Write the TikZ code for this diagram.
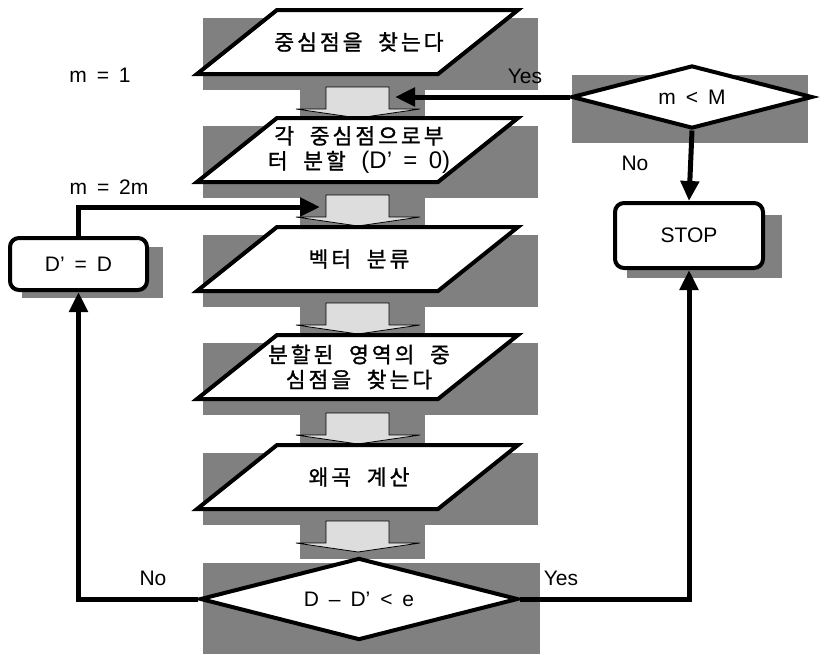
\documentclass[tikz,border=0pt]{standalone}
\usepackage{fontspec}
\setmainfont[WordSpace=1.7]{Liberation Sans}
\newfontfamily\kr[LetterSpace=14,FakeBold=1.2,WordSpace=2.0]{Noto Sans CJK KR}
\usetikzlibrary{arrows.meta,shapes.geometric}
\definecolor{shadegray}{RGB}{128,128,128}
\definecolor{blockgray}{RGB}{221,221,221}

% one input/output step: grey shadow, parallelogram, text
% #1 node name, #2 top edge y, #3 text
\newcommand\iostep[3]{%
  \fill[shadegray] (203,#2+8) rectangle (538,#2+80);
  \draw[iofr] (277,#2) -- (518,#2) -- (438,#2+64) -- (197,#2+64) -- cycle;
  \node[iotext] (#1) at (359,#2+32) {#3};
}
% one block arrow between steps, #1 name, #2 top of the shaft
\newcommand\flowdown[2]{%
  \fill[shadegray] (300,#2+2) rectangle (425,#2+38);
  \draw[blockarr] (326,#2) -- (389,#2) -- (389,#2+22) -- (420,#2+22)
    -- (358,#2+31) -- (296,#2+22) -- (326,#2+22) -- cycle;
  \coordinate (#1) at (358,#2+31);
}
% Latin run inside a Korean label
\newcommand\latinrun[1]{{\normalfont\fontsize{24}{25}\selectfont #1}}

\begin{document}
\begin{tikzpicture}[x=1pt,y=-1pt,
  iofr/.style={draw=black,fill=white,line width=4pt,line join=miter},
  iotext/.style={font=\kr\fontsize{21.5}{25}\selectfont,align=center,inner sep=0pt},
  blockarr/.style={draw=black,fill=blockgray,line width=0.8pt},
  decision/.style={diamond,draw=black,fill=white,line width=4pt,inner sep=0pt,
    font=\fontsize{21}{24}\selectfont},
  roundbox/.style={rectangle,rounded corners=9pt,draw=black,fill=white,
    line width=4pt,inner sep=0pt,font=\fontsize{21}{24}\selectfont},
  conn/.style={line width=5pt,line join=miter},
  tip/.style={-{Triangle[length=20pt,width=18pt]}},
  lbl/.style={font=\fontsize{21}{24}\selectfont,inner sep=0pt}]
\useasboundingbox (0,0) rectangle (827,654);

% shadows of the rounded boxes and decisions
\fill[shadegray] (572,75) rectangle (808,143);
\fill[shadegray] (627,215) rectangle (782,278);
\fill[shadegray] (22,247) rectangle (163,298);
\fill[shadegray] (203,563) rectangle (540,654);

% main column of steps
\iostep{s1}{10}{중심점을 찾는다}
\flowdown{a1}{87}
\iostep{s2}{118}{각 중심점으로부\\터 분할 \latinrun{(D’ = 0)}}
\flowdown{a2}{195}
\iostep{s3}{227}{벡터 분류}
\flowdown{a3}{303}
\iostep{s4}{335}{분할된 영역의 중\\심점을 찾는다}
\flowdown{a4}{413}
\iostep{s5}{445}{왜곡 계산}
\flowdown{a5}{521}

% decisions and terminal boxes
\node[decision,aspect=3.88,minimum width=318pt,minimum height=82pt] (dd) at (359,599) {D – D’ < e};
\node[decision,aspect=3.83,minimum width=241pt,minimum height=63pt] (mm) at (692,97) {m < M};
\node[roundbox,minimum width=148pt,minimum height=65pt] (stop) at (689,235.5) {STOP};
\node[roundbox,minimum width=137pt,minimum height=52pt] (upd) at (78.5,264) {D’ = D};

% connectors
\coordinate (in1) at (395,97);
\coordinate (in2) at (320,207);
\draw[conn,tip] (mm.west) -- (in1);
\draw[conn,tip] (mm.south) -- (stop.north);
\draw[conn,tip] (dd.east) -| (stop.south);
\draw[conn,tip] (dd.west) -| (upd.south);
\draw[conn,tip] (upd.north) |- (in2);

% labels
\node[lbl] (l1) at (100,75) {m = 1};
\node[lbl] (l2) at (525,76) {Yes};
\node[lbl] (l3) at (635,163) {No};
\node[lbl] (l4) at (109,187) {m = 2m};
\node[lbl] (l5) at (153,578) {No};
\node[lbl] (l6) at (561,578) {Yes};
\end{tikzpicture}
\end{document}
